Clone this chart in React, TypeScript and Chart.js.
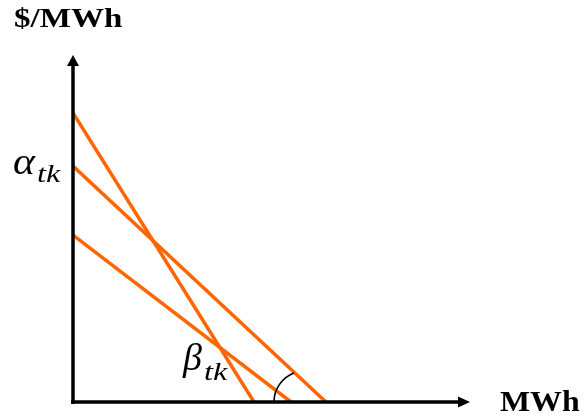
import React, { useEffect, useRef } from "react";
import { Chart, registerables } from "chart.js";

Chart.register(...registerables);

// Three linear bid curves: price intercept (alpha, $/MWh) and quantity intercept (MWh)
const curveNames = ["Offer 1", "Offer 2", "Offer 3"];
const priceIntercepts = [83.3, 68.0, 48.1];
const quantityIntercepts = [45.25, 63.25, 54.5];
const axisMax = { x: 100, y: 100 };
const angleMarkerX = 58; // MWh position of the slope-angle marker

const ORANGE = "#FF6600";

const axesPlugin = {
  id: "arrowAxes",
  afterDatasetsDraw(chart: any) {
    const { ctx, scales } = chart;
    const xs = scales.x;
    const ys = scales.y;
    const x0 = xs.getPixelForValue(0);
    const y0 = ys.getPixelForValue(0);
    const yTop = ys.getPixelForValue(axisMax.y);
    const xEnd = xs.getPixelForValue(axisMax.x);
    ctx.save();
    ctx.strokeStyle = "#000";
    ctx.fillStyle = "#000";
    ctx.lineWidth = 3.5;
    // y axis
    ctx.beginPath();
    ctx.moveTo(x0, y0 + 2);
    ctx.lineTo(x0, yTop + 10);
    ctx.stroke();
    ctx.beginPath();
    ctx.moveTo(x0, yTop);
    ctx.lineTo(x0 - 6, yTop + 11);
    ctx.lineTo(x0 + 6, yTop + 11);
    ctx.closePath();
    ctx.fill();
    // x axis
    ctx.beginPath();
    ctx.moveTo(x0 - 2, y0);
    ctx.lineTo(xEnd - 13, y0);
    ctx.stroke();
    ctx.beginPath();
    ctx.moveTo(xEnd - 3, y0);
    ctx.lineTo(xEnd - 15, y0 - 5.5);
    ctx.lineTo(xEnd - 15, y0 + 5.5);
    ctx.closePath();
    ctx.fill();
    // angle marker
    const cx = xs.getPixelForValue(angleMarkerX);
    ctx.lineWidth = 1.6;
    ctx.beginPath();
    ctx.arc(cx, y0, 31, Math.PI, 4.35, false);
    ctx.stroke();
    ctx.restore();
  },
};

const labelBase: React.CSSProperties = {
  position: "absolute",
  lineHeight: 1,
  whiteSpace: "nowrap",
  fontFamily: "'Liberation Serif', 'Times New Roman', serif",
  color: "#000",
  transformOrigin: "left center",
};

function Label(props: {
  text: string;
  left: number;
  baseline: number;
  size: number;
  bold?: boolean;
  italic?: boolean;
  sx?: number;
}) {
  const { text, left, baseline, size, bold, italic, sx } = props;
  const top = baseline - 0.8375 * size;
  return (
    <span
      style={{
        ...labelBase,
        left,
        top,
        fontSize: size,
        fontWeight: bold ? "bold" : "normal",
        fontStyle: italic ? "italic" : "normal",
        transform: `scaleX(${sx ?? 1})`,
      }}
    >
      {text}
    </span>
  );
}

export default function App() {
  const canvasRef = useRef<HTMLCanvasElement | null>(null);

  useEffect(() => {
    if (!canvasRef.current) return;
    const datasets = curveNames.map((name, i) => ({
      label: name,
      data: [
        { x: 0, y: priceIntercepts[i] },
        { x: quantityIntercepts[i], y: 0 },
      ],
      borderColor: ORANGE,
      backgroundColor: ORANGE,
      borderWidth: 3.5,
      pointRadius: 0,
      showLine: true,
      fill: false,
    }));
    const chart = new Chart(canvasRef.current, {
      type: "scatter",
      data: { datasets },
      options: {
        animation: false,
        responsive: false,
        maintainAspectRatio: false,
        layout: { padding: { left: 73, right: 111, top: 55, bottom: 17 } },
        plugins: {
          legend: { display: false },
          tooltip: { enabled: false },
        },
        scales: {
          x: { type: "linear", min: 0, max: axisMax.x, display: false },
          y: { type: "linear", min: 0, max: axisMax.y, display: false },
        },
      },
      plugins: [axesPlugin],
    });
    return () => chart.destroy();
  }, []);

  return (
    <div
      style={{
        position: "fixed",
        left: 0,
        top: 0,
        width: 584,
        height: 419,
        background: "#fff",
        overflow: "hidden",
      }}
    >
      <canvas
        ref={canvasRef}
        width={584}
        height={419}
        style={{ position: "absolute", left: 0, top: 0, width: 584, height: 419 }}
      />
      <Label text="$/MWh" left={14} baseline={27} size={28} bold sx={1.18} />
      <Label text="MWh" left={500} baseline={411} size={29} bold sx={1.1} />
      <Label text="α" left={13} baseline={174} size={38} italic sx={1.1} />
      <Label text="tk" left={37} baseline={182} size={25} italic sx={1.3} />
      <Label text="β" left={183} baseline={370} size={38} italic sx={1.0} />
      <Label text="tk" left={204} baseline={380} size={25} italic sx={1.3} />
    </div>
  );
}
